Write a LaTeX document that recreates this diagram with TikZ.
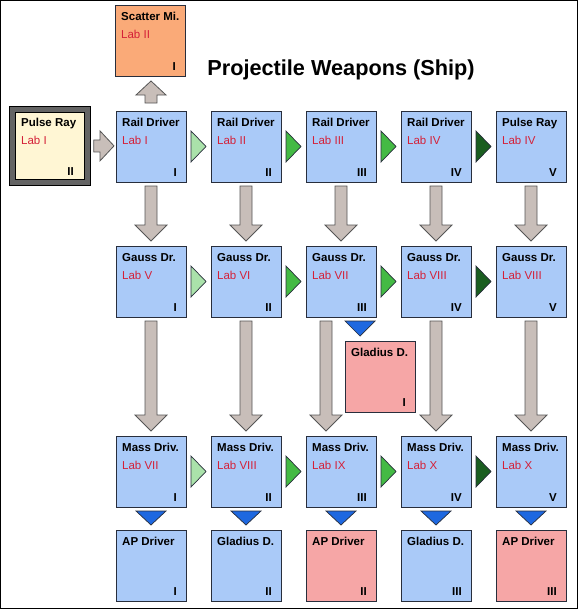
\documentclass[tikz,border=0pt]{standalone}
\usepackage{fontspec}
\setmainfont{Liberation Sans}
\usetikzlibrary{calc}
\definecolor{boxblue}{RGB}{170,202,248}
\definecolor{boxpink}{RGB}{246,166,166}
\definecolor{boxorange}{RGB}{250,170,120}
\definecolor{boxcream}{RGB}{255,246,212}
\definecolor{labred}{RGB}{212,32,56}
\definecolor{edge}{RGB}{40,46,60}
\definecolor{greyfill}{RGB}{200,190,185}
\definecolor{greyedge}{RGB}{85,85,85}
\definecolor{gLight}{RGB}{170,226,170}
\definecolor{gMid}{RGB}{68,186,68}
\definecolor{gDark}{RGB}{26,94,32}
\definecolor{triblue}{RGB}{30,104,224}
\definecolor{frameg}{RGB}{100,100,100}
\tikzset{
  box/.style={draw=edge, line width=0.9pt, minimum width=70pt, minimum height=71pt, inner sep=0pt, outer sep=0pt, anchor=north west},
  ttl/.style={font=\fontsize{11.5}{12}\selectfont\bfseries, text=black, inner sep=0pt},
  labt/.style={font=\fontsize{11.5}{12}\selectfont, text=labred, inner sep=0pt},
  numt/.style={font=\fontsize{11.5}{12}\selectfont\bfseries, text=black, inner sep=0pt},
  garrow/.style={fill=greyfill, draw=greyedge, line width=0.8pt, line join=miter},
  gtri/.style={draw=edge, line width=0.7pt, line join=miter},
  btri/.style={fill=triblue, draw=edge, line width=0.7pt, line join=miter},
}
\newcommand\wbox[7]{%
  \node[box, fill=#4] (#1) at (#2,#3) {};
  \node[ttl, anchor=base west] (#1-t) at ($(#1.north west)+(6,15.5)$) {#5};
  \node[labt, anchor=base west] (#1-l) at ($(#1.north west)+(6,33.5)$) {#6};
  \node[numt, anchor=base east] (#1-n) at ($(#1.south east)+(-9,-6)$) {#7};}
\newcommand\gdown[3]{%
  \coordinate (t) at ($(#1.south)+(#3,4)$);
  \coordinate (p) at ($(t |- #2.north)+(0,-5)$);
  \draw[garrow] ($(t)+(-6,0)$) -- ($(p)+(-6,-16)$) -- ($(p)+(-16,-16)$) -- (p)
     -- ($(p)+(16,-16)$) -- ($(p)+(6,-16)$) -- ($(t)+(6,0)$) -- cycle;}
\newcommand\bdown[3]{%
  \coordinate (bt) at ($(#1.south)+(#3,4)$);
  \coordinate (bb) at ($(bt |- #2.north)+(0,-5)$);
  \draw[btri] ($(bt)+(-15,0)$) -- ($(bt)+(15,0)$) -- (bb) -- cycle;}
\newcommand\gright[3]{%
  \coordinate (gl) at ($(#1.east)+(5,0)$);
  \coordinate (gr) at ($(gl -| #2.west)+(-5,0)$);
  \draw[gtri, fill=#3] ($(gl)+(0,-15.5)$) -- (gr) -- ($(gl)+(0,15.5)$) -- cycle;}
\begin{document}
\begin{tikzpicture}[x=1pt,y=-1pt]
\useasboundingbox (0,0) rectangle (581,611);
\draw[black, line width=1pt] (0.5,0.5) rectangle (577.5,608.5);
\node[font=\fontsize{21.7}{24}\selectfont\bfseries, anchor=base, inner sep=0pt] (title) at (341,75) {Projectile Weapons (Ship)};
% Pulse Ray (start)
\node[draw=black, fill=frameg, line width=0.8pt, minimum width=81pt, minimum height=79pt, inner sep=0pt, anchor=north west] (pulseo) at (9,106) {};
\node[box, draw=black, fill=boxcream, minimum width=69pt, minimum height=67pt] (pulse) at (15,112) {};
\node[ttl, anchor=base west] (pulse-t) at ($(pulse.north west)+(6,14)$) {Pulse Ray};
\node[labt, anchor=base west] (pulse-l) at ($(pulse.north west)+(6,32)$) {Lab I};
\node[numt, anchor=base east] (pulse-n) at ($(pulse.south east)+(-10,-4)$) {II};
% Scatter
\wbox{scat}{115}{5}{boxorange}{Scatter Mi.}{Lab II}{I}
% Row 1
\wbox{a1}{116}{111}{boxblue}{Rail Driver}{Lab I}{I}
\wbox{a2}{211}{111}{boxblue}{Rail Driver}{Lab II}{II}
\wbox{a3}{306}{111}{boxblue}{Rail Driver}{Lab III}{III}
\wbox{a4}{401}{111}{boxblue}{Rail Driver}{Lab IV}{IV}
\wbox{a5}{496}{111}{boxblue}{Pulse Ray}{Lab IV}{V}
% Row 2
\wbox{b1}{116}{246}{boxblue}{Gauss Dr.}{Lab V}{I}
\wbox{b2}{211}{246}{boxblue}{Gauss Dr.}{Lab VI}{II}
\wbox{b3}{306}{246}{boxblue}{Gauss Dr.}{Lab VII}{III}
\wbox{b4}{401}{246}{boxblue}{Gauss Dr.}{Lab VIII}{IV}
\wbox{b5}{496}{246}{boxblue}{Gauss Dr.}{Lab VIII}{V}
% Gladius mid
\wbox{gl}{345}{341}{boxpink}{Gladius D.}{}{I}
% Row 3
\wbox{c1}{116}{436}{boxblue}{Mass Driv.}{Lab VII}{I}
\wbox{c2}{211}{436}{boxblue}{Mass Driv.}{Lab VIII}{II}
\wbox{c3}{306}{436}{boxblue}{Mass Driv.}{Lab IX}{III}
\wbox{c4}{401}{436}{boxblue}{Mass Driv.}{Lab X}{IV}
\wbox{c5}{496}{436}{boxblue}{Mass Driv.}{Lab X}{V}
% Row 4
\wbox{d1}{116}{530}{boxblue}{AP Driver}{}{I}
\wbox{d2}{211}{530}{boxblue}{Gladius D.}{}{II}
\wbox{d3}{306}{530}{boxpink}{AP Driver}{}{II}
\wbox{d4}{401}{530}{boxblue}{Gladius D.}{}{III}
\wbox{d5}{496}{530}{boxpink}{AP Driver}{}{III}
% Pulse -> Rail I
\coordinate (pl) at ($(pulseo.east)+(3,0)$);
\coordinate (pr) at ($(pl -| a1.west)+(-2,0)$);
\draw[garrow] ($(pl)+(0,-6)$) -- ($(pr)+(-14,-6)$) -- ($(pr)+(-14,-15)$) -- (pr)
   -- ($(pr)+(-14,15)$) -- ($(pr)+(-14,6)$) -- ($(pl)+(0,6)$) -- cycle;
% Rail I -> Scatter
\coordinate (ub) at ($(a1.north)+(0,-8)$);
\coordinate (ut) at ($(ub |- scat.south)+(0,5)$);
\draw[garrow] ($(ub)+(-6,0)$) -- ($(ut)+(-6,14)$) -- ($(ut)+(-15,14)$) -- (ut)
   -- ($(ut)+(15,14)$) -- ($(ut)+(6,14)$) -- ($(ub)+(6,0)$) -- cycle;
% grey down arrows
\gdown{a1}{b1}{0}\gdown{a2}{b2}{0}\gdown{a3}{b3}{0}\gdown{a4}{b4}{0}\gdown{a5}{b5}{0}
\gdown{b1}{c1}{0}\gdown{b2}{c2}{0}\gdown{b3}{c3}{-15}\gdown{b4}{c4}{0}\gdown{b5}{c5}{0}
% blue triangles
\bdown{b3}{gl}{19}
\bdown{c1}{d1}{0}\bdown{c2}{d2}{0}\bdown{c3}{d3}{0}\bdown{c4}{d4}{0}\bdown{c5}{d5}{0}
% green triangles
\gright{a1}{a2}{gLight}\gright{a2}{a3}{gMid}\gright{a3}{a4}{gMid}\gright{a4}{a5}{gDark}
\gright{b1}{b2}{gLight}\gright{b2}{b3}{gMid}\gright{b3}{b4}{gMid}\gright{b4}{b5}{gDark}
\gright{c1}{c2}{gLight}\gright{c2}{c3}{gMid}\gright{c3}{c4}{gMid}\gright{c4}{c5}{gDark}
\end{tikzpicture}
\end{document}
